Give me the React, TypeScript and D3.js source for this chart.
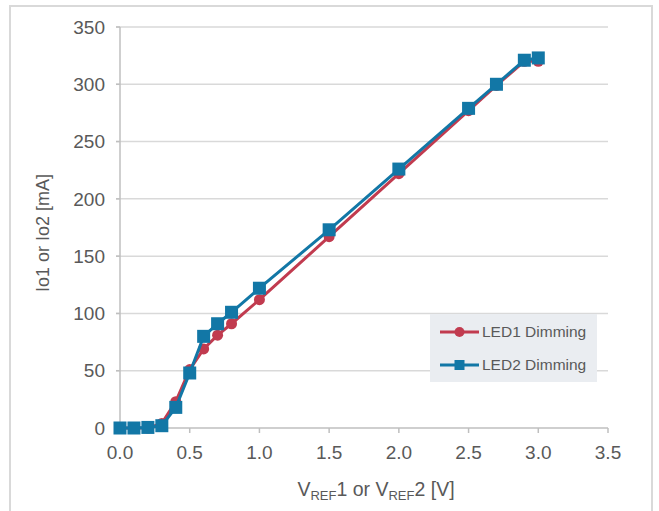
import React from "react";
import * as d3 from "d3";

const xValues = [0, 0.1, 0.2, 0.3, 0.4, 0.5, 0.6, 0.7, 0.8, 1.0, 1.5, 2.0, 2.5, 2.7, 2.9, 3.0];
const led1 = [0, 0, 0, 4, 23, 51, 69, 81, 91, 112, 167, 222, 277, 299, 320, 320];
const led2 = [0, 0, 0.5, 2, 18, 48, 80, 91, 101, 122, 173, 226, 279, 300, 321, 323];
const xTicks = [0, 0.5, 1.0, 1.5, 2.0, 2.5, 3.0, 3.5];
const yTicks = [0, 50, 100, 150, 200, 250, 300, 350];
const seriesNames = ["LED1 Dimming", "LED2 Dimming"];

const W = 659;
const H = 511;
const RED = "#C13B4F";
const BLUE = "#1277A6";
const TXT = "#595959";
const FONT = "Arial, 'Liberation Sans', sans-serif";

export default function App() {
  const x = d3.scaleLinear().domain([0, 3.5]).range([120, 608]);
  const y = d3.scaleLinear().domain([0, 350]).range([428, 27]);
  const line = d3
    .line<[number, number]>()
    .x((d) => x(d[0]))
    .y((d) => y(d[1]));
  const d1 = xValues.map((v, i) => [v, led1[i]] as [number, number]);
  const d2 = xValues.map((v, i) => [v, led2[i]] as [number, number]);
  const sq = 13;

  return (
    <svg
      width={W}
      height={H}
      style={{ position: "absolute", left: 0, top: 0, background: "#fff" }}
      fontFamily={FONT}
    >
      <rect x={10} y={6} width={642} height={530} fill="#fff" stroke="#d9d9d9" strokeWidth={2} />
      {yTicks.map((t) => (
        <g key={"y" + t}>
          {t > 0 && (
            <line x1={116} x2={608} y1={y(t)} y2={y(t)} stroke="#d9d9d9" strokeWidth={1.5} />
          )}
          <line x1={116} x2={120} y1={y(t)} y2={y(t)} stroke="#bfbfbf" strokeWidth={1.5} />
          <text x={105} y={y(t)} dy="0.35em" textAnchor="end" fontSize={19} fill={TXT}>
            {t}
          </text>
        </g>
      ))}
      <line x1={120} x2={120} y1={y(350)} y2={y(0)} stroke="#bfbfbf" strokeWidth={1.5} />
      <line x1={116} x2={608} y1={y(0)} y2={y(0)} stroke="#bfbfbf" strokeWidth={1.5} />
      {xTicks.map((t) => (
        <g key={"x" + t}>
          <line x1={x(t)} x2={x(t)} y1={y(0)} y2={y(0) + 5} stroke="#bfbfbf" strokeWidth={1.5} />
          <text x={x(t)} y={452} dy="0.35em" textAnchor="middle" fontSize={19} fill={TXT}>
            {t.toFixed(1)}
          </text>
        </g>
      ))}
      <text x={376} y={496} textAnchor="middle" fontSize={19.5} fill={TXT}>
        V<tspan fontSize={13} dy={4}>REF</tspan>
        <tspan dy={-4}>1 or V</tspan>
        <tspan fontSize={13} dy={4}>REF</tspan>
        <tspan dy={-4}>2 [V]</tspan>
      </text>
      <text
        transform={`translate(49,233) rotate(-90)`}
        textAnchor="middle"
        fontSize={18}
        fill={TXT}
      >
        Io1 or Io2 [mA]
      </text>
      <path d={line(d1) || ""} fill="none" stroke={RED} strokeWidth={3} />
      {d1.map((d, i) => (
        <circle key={"c" + i} cx={x(d[0])} cy={y(d[1])} r={5.5} fill={RED} />
      ))}
      <path d={line(d2) || ""} fill="none" stroke={BLUE} strokeWidth={3} />
      {d2.map((d, i) => (
        <rect
          key={"s" + i}
          x={x(d[0]) - sq / 2}
          y={y(d[1]) - sq / 2}
          width={sq}
          height={sq}
          fill={BLUE}
        />
      ))}
      <rect x={430} y={314} width={167} height={68} fill="#eaedf1" />
      <line x1={440} x2={479} y1={332} y2={332} stroke={RED} strokeWidth={3} />
      <circle cx={459.5} cy={332} r={5} fill={RED} />
      <text x={482} y={332} dy="0.35em" fontSize={15.5} fill={TXT}>
        {seriesNames[0]}
      </text>
      <line x1={440} x2={479} y1={365} y2={365} stroke={BLUE} strokeWidth={3} />
      <rect x={454.5} y={360} width={10} height={10} fill={BLUE} />
      <text x={482} y={365} dy="0.35em" fontSize={15.5} fill={TXT}>
        {seriesNames[1]}
      </text>
    </svg>
  );
}
